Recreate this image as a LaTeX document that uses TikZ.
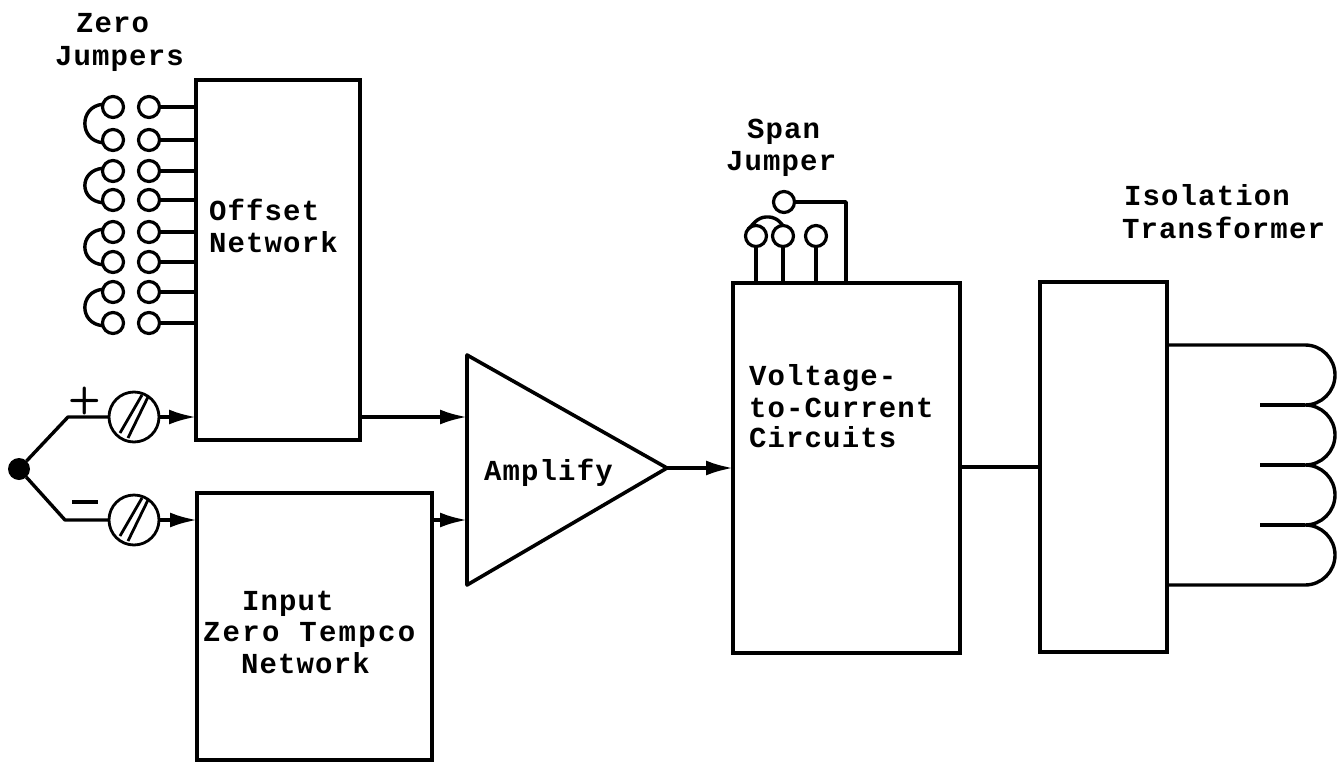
\documentclass[tikz,border=0pt]{standalone}
\usepackage{fontspec}
\setmonofont[LetterSpace=4,BoldFont={Liberation Mono Bold}]{Liberation Mono}
\usetikzlibrary{arrows.meta}
\tikzset{
  wire/.style={line width=3.4pt,line join=round},
  feed/.style={wire,-{Latex[length=27pt,width=15pt]}},
  block/.style={draw,line width=3.6pt,inner sep=0pt,outer sep=0pt,anchor=north west},
  jack/.style={circle,draw,line width=3.2pt,minimum size=21pt,inner sep=0pt,outer sep=0pt},
  screw/.style={circle,draw,line width=2.8pt,minimum size=50pt,inner sep=0pt,outer sep=0pt},
  caption/.style={inner sep=0pt,outer sep=0pt,anchor=base west,font=\fontsize{29pt}{29pt}\selectfont\ttfamily\bfseries}
}
\begin{document}
\begin{tikzpicture}[x=1pt,y=-1pt]
\useasboundingbox (0,0) rectangle (1344,763);
\fill[white] (0,0) rectangle (1344,763);
% blocks
\node[block,minimum width=164pt,minimum height=360pt] (off) at (196,80) {};
\node[block,minimum width=235pt,minimum height=267pt] (inp) at (197,493) {};
\node[block,minimum width=227pt,minimum height=370pt] (vc) at (733,283) {};
\node[block,minimum width=127pt,minimum height=370pt] (iso) at (1040,282) {};
% amplifier
\coordinate (ampT) at (467,355);
\coordinate (ampB) at (467,585);
\coordinate (ampO) at (667,468);
\draw[wire,line width=3.6pt] (ampT) -- (ampO) -- (ampB) -- cycle;
% zero jumper jacks
\foreach \n/\y in {1/107,2/140,3/171,4/200,5/232,6/262,7/292,8/323}{
  \node[jack] (a\n) at (113,\y) {};
  \node[jack] (b\n) at (149,\y) {};
  \draw[wire] (b\n.east) -- (b\n.east -| off.west);
}
\foreach \p/\q in {1/2,3/4,5/6,7/8}{
  \draw[wire] (a\p.165) .. controls +(-24,2) and +(-24,-2) .. (a\q.195);
}
% input
\node[circle,fill=black,minimum size=22pt,inner sep=0pt,outer sep=0pt] (src) at (19,469) {};
\node[screw] (sp) at (134,417) {};
\node[screw] (sm) at (134,520) {};
\coordinate (kp) at (68,417);
\coordinate (km) at (65,520);
\draw[wire] (src) -- (kp) -- (sp.west);
\draw[wire] (src) -- (km) -- (sm.west);
\foreach \s in {sp,sm}{
  \draw[line width=2.8pt] ([shift={(-14,16)}]\s.center) -- ([shift={(8,-22)}]\s.center);
  \draw[line width=2.8pt] ([shift={(-6,21)}]\s.center) -- ([shift={(14,-20)}]\s.center);
}
\draw[feed] (sp.east) -- (sp.east -| off.west);
\draw[feed] (sm.east) -- (sm.east -| inp.west);
\node[inner sep=0pt,outer sep=0pt,font=\fontsize{38pt}{38pt}\selectfont\sffamily\bfseries] (plus) at (85,401) {+};
\node[inner sep=0pt,outer sep=0pt,font=\fontsize{38pt}{38pt}\selectfont\sffamily\bfseries] (minus) at (85,502) {\rule{26pt}{3.6pt}};
% signal path
\coordinate (oo) at (360,417);
\coordinate (io) at (432,520);
\draw[feed] (oo) -- (oo -| ampT);
\draw[feed] (io) -- (io -| ampT);
\draw[feed] (ampO) -- (ampO -| vc.west);
\coordinate (vo) at (960,467);
\draw[wire] (vo) -- (vo -| iso.west);
% span jumper
\node[jack] (j0) at (784,202) {};
\node[jack] (j1) at (756,236) {};
\node[jack] (j2) at (783,236) {};
\node[jack] (j3) at (816,236) {};
\coordinate (jc) at (846,202);
\draw[wire] (j0.east) -- (jc) -- (jc |- vc.north);
\foreach \j in {j1,j2,j3}{\draw[wire] (\j.south) -- (\j.south |- vc.north);}
\draw[wire,rounded corners=6pt] (j1.140) -- (760,217) -- (775,217) -- (j2.north);
% transformer
\coordinate (t0) at (1167,345);
\coordinate (t4) at (1167,585);
\draw[wire] (t0) -- (1305,345)
  arc[start angle=-90,end angle=90,radius=30]
  arc[start angle=-90,end angle=90,radius=30]
  arc[start angle=-90,end angle=90,radius=30]
  arc[start angle=-90,end angle=90,radius=30] -- (t4);
\foreach \y in {405,465,525}{\draw[wire] (1260,\y) -- (1305,\y);}
% text
\node[caption] (t1) at (76,32) {Zero};
\node[caption] (t2) at (55,65) {Jumpers};
\node[caption] (t3) at (747,138) {Span};
\node[caption] (t4a) at (726,170) {Jumper};
\node[caption] (t5) at (1124,205) {Isolation};
\node[caption] (t6) at (1122,238) {Transformer};
\node[caption] (t7) at (209,220) {Offset};
\node[caption] (t8) at (209,252) {Network};
\node[caption] (t9) at (484,480) {Amplify};
\node[caption] (t10) at (749,385) {Voltage-};
\node[caption] (t11) at (749,417) {to-Current};
\node[caption] (t12) at (749,447) {Circuits};
\node[caption] (t13) at (242,610) {Input};
\node[caption] (t14) at (203,641) {\addfontfeature{LetterSpace=8}Zero Tempco};
\node[caption] (t15) at (241,673) {Network};
\end{tikzpicture}
\end{document}
